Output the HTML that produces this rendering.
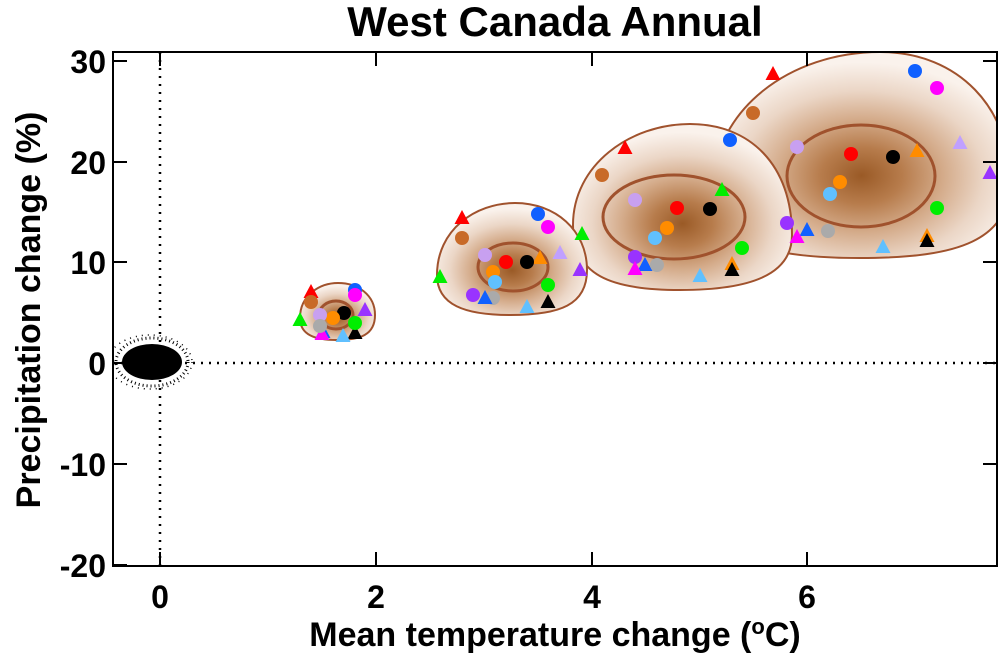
<!DOCTYPE html>
<html><head><meta charset="utf-8"><style>
html,body{margin:0;padding:0;background:#fff;}
svg text{font-family:"Liberation Sans",Arial,sans-serif;font-weight:bold;fill:#000;}
</style></head><body>
<svg width="1000" height="658" viewBox="0 0 1000 658" xmlns="http://www.w3.org/2000/svg">
<defs>
<radialGradient id="g" cx="50%" cy="60%" r="55%">
<stop offset="0" stop-color="#9a5a26"/>
<stop offset="0.25" stop-color="#b77c4c"/>
<stop offset="0.5" stop-color="#d4ab8a"/>
<stop offset="0.75" stop-color="#ebd6c6"/>
<stop offset="1" stop-color="#faf2ec"/>
</radialGradient>
<clipPath id="c"><rect x="113" y="52" width="884" height="514"/></clipPath>
<circle id="C" r="7"/>
<polygon id="T" points="0,-8 -7.5,6 7.5,6"/>
</defs>
<text x="555" y="36" font-size="42" text-anchor="middle">West Canada Annual</text>
<g clip-path="url(#c)">
<line x1="160" y1="52" x2="160" y2="566" stroke="#000" stroke-width="2.5" stroke-dasharray="2,6"/>
<line x1="113" y1="363" x2="997" y2="363" stroke="#000" stroke-width="2.5" stroke-dasharray="2,6"/>
<path d="M713,190 C713,110 790,52 880,52 C960,52 1010,110 1010,180 C1010,240 960,258 860,258 C760,258 713,240 713,190Z" fill="url(#g)" stroke="#a0522d" stroke-width="2"/>
<ellipse cx="861" cy="176" rx="74" ry="51" fill="none" stroke="#a0522d" stroke-width="3"/>
<path d="M573,225 C573,165 630,124 690,124 C750,124 792,165 792,235 C792,275 750,290 680,290 C610,290 573,275 573,225Z" fill="url(#g)" stroke="#a0522d" stroke-width="2"/>
<ellipse cx="674" cy="217" rx="71" ry="42" fill="none" stroke="#a0522d" stroke-width="3"/>
<path d="M437,275 C437,230 475,203 515,203 C555,203 587,230 587,270 C587,305 560,315 510,315 C465,315 437,305 437,275Z" fill="url(#g)" stroke="#a0522d" stroke-width="2"/>
<ellipse cx="513" cy="267" rx="35" ry="24" fill="none" stroke="#a0522d" stroke-width="3"/>
<path d="M300,318 C300,295 320,283 338,283 C358,283 375,295 375,315 C375,335 360,340 337,340 C315,340 300,335 300,318Z" fill="url(#g)" stroke="#a0522d" stroke-width="2"/>
<ellipse cx="336" cy="315" rx="17" ry="14" fill="none" stroke="#a0522d" stroke-width="3"/>
<ellipse cx="152" cy="362" rx="30" ry="18" fill="#000"/>
<ellipse cx="152" cy="362" rx="36" ry="24" fill="none" stroke="#000" stroke-width="3" stroke-dasharray="1,3"/>
<ellipse cx="150" cy="362" rx="42" ry="27" fill="none" stroke="#000" stroke-width="1.5" stroke-dasharray="1,5"/>
<!-- group 1 -->
<use href="#T" x="311" y="292" fill="#ff0000"/><use href="#T" x="300" y="320" fill="#00ee00"/><use href="#T" x="323" y="332" fill="#1060ff"/><use href="#T" x="322" y="334" fill="#ff00ff"/><use href="#T" x="365" y="310" fill="#9933ff"/><use href="#T" x="355" y="333" fill="#000"/><use href="#T" x="343" y="336" fill="#60c0ff"/>
<use href="#C" x="355" y="290" fill="#1060ff"/><use href="#C" x="355" y="295" fill="#ff00ff"/><use href="#C" x="344" y="313" fill="#000"/><use href="#C" x="333" y="318" fill="#ff8c00"/><use href="#C" x="320" y="315" fill="#c8a0f0"/><use href="#C" x="311" y="302" fill="#c86a28"/><use href="#C" x="355" y="323" fill="#00ee00"/><use href="#C" x="320" y="326" fill="#aaaaaa"/>
<!-- group 2 -->
<use href="#T" x="462" y="218" fill="#ff0000"/><use href="#C" x="462" y="238" fill="#c86a28"/><use href="#C" x="538" y="214" fill="#1060ff"/><use href="#C" x="548" y="227" fill="#ff00ff"/><use href="#T" x="440" y="277" fill="#00ee00"/><use href="#C" x="485" y="255" fill="#c8a0f0"/><use href="#T" x="560" y="253" fill="#c0a0ff"/><use href="#T" x="582" y="234" fill="#00ee00"/><use href="#T" x="580" y="270" fill="#9933ff"/><use href="#T" x="540" y="258" fill="#ff8c00"/><use href="#C" x="506" y="262" fill="#ff0000"/><use href="#C" x="527" y="262" fill="#000"/><use href="#C" x="493" y="272" fill="#ff8c00"/><use href="#C" x="495" y="282" fill="#60c0ff"/><use href="#C" x="493" y="298" fill="#aaaaaa"/><use href="#C" x="473" y="295" fill="#9933ff"/><use href="#T" x="485" y="298" fill="#1060ff"/><use href="#C" x="548" y="285" fill="#00ee00"/><use href="#T" x="548" y="302" fill="#000"/><use href="#T" x="527" y="307" fill="#60c0ff"/>
<!-- group 3 -->
<use href="#T" x="625" y="148" fill="#ff0000"/><use href="#C" x="602" y="175" fill="#c86a28"/><use href="#C" x="730" y="140" fill="#1060ff"/><use href="#T" x="722" y="190" fill="#00ee00"/><use href="#C" x="635" y="200" fill="#c8a0f0"/><use href="#C" x="677" y="208" fill="#ff0000"/><use href="#C" x="710" y="209" fill="#000"/><use href="#C" x="667" y="228" fill="#ff8c00"/><use href="#C" x="655" y="238" fill="#60c0ff"/><use href="#C" x="635" y="257" fill="#9933ff"/><use href="#T" x="645" y="265" fill="#1060ff"/><use href="#C" x="657" y="265" fill="#aaaaaa"/><use href="#T" x="635" y="269" fill="#ff00ff"/><use href="#C" x="742" y="248" fill="#00ee00"/><use href="#T" x="732" y="264" fill="#ff8c00"/><use href="#T" x="732" y="270" fill="#000"/><use href="#T" x="700" y="276" fill="#60c0ff"/>
<!-- group 4 -->
<use href="#T" x="773" y="74" fill="#ff0000"/><use href="#C" x="753" y="113" fill="#c86a28"/><use href="#C" x="915" y="71" fill="#1060ff"/><use href="#C" x="937" y="88" fill="#ff00ff"/><use href="#C" x="797" y="147" fill="#c8a0f0"/><use href="#T" x="960" y="143" fill="#c0a0ff"/><use href="#T" x="917" y="151" fill="#ff8c00"/><use href="#C" x="851" y="154" fill="#ff0000"/><use href="#C" x="893" y="157" fill="#000"/><use href="#C" x="840" y="182" fill="#ff8c00"/><use href="#C" x="830" y="194" fill="#60c0ff"/><use href="#T" x="990" y="173" fill="#9933ff"/><use href="#C" x="787" y="223" fill="#9933ff"/><use href="#T" x="807" y="230" fill="#1060ff"/><use href="#T" x="797" y="237" fill="#ff00ff"/><use href="#C" x="828" y="231" fill="#aaaaaa"/><use href="#C" x="937" y="208" fill="#00ee00"/><use href="#T" x="883" y="247" fill="#60c0ff"/><use href="#T" x="927" y="236" fill="#ff8c00"/><use href="#T" x="927" y="241" fill="#000"/>
</g>
<rect x="113" y="52" width="884" height="514" fill="none" stroke="#000" stroke-width="2"/>
<g stroke="#000" stroke-width="2">
<line x1="160" y1="566" x2="160" y2="552"/><line x1="376" y1="566" x2="376" y2="552"/><line x1="592" y1="566" x2="592" y2="552"/><line x1="807" y1="566" x2="807" y2="552"/>
<line x1="160" y1="52" x2="160" y2="66"/><line x1="376" y1="52" x2="376" y2="66"/><line x1="592" y1="52" x2="592" y2="66"/><line x1="807" y1="52" x2="807" y2="66"/>
<line x1="113" y1="61" x2="127" y2="61"/><line x1="113" y1="162" x2="127" y2="162"/><line x1="113" y1="262" x2="127" y2="262"/><line x1="113" y1="363" x2="127" y2="363"/><line x1="113" y1="464" x2="127" y2="464"/><line x1="113" y1="565" x2="127" y2="565"/>
<line x1="997" y1="61" x2="983" y2="61"/><line x1="997" y1="162" x2="983" y2="162"/><line x1="997" y1="262" x2="983" y2="262"/><line x1="997" y1="363" x2="983" y2="363"/><line x1="997" y1="464" x2="983" y2="464"/>
</g>
<g font-size="32" text-anchor="middle">
<text x="160" y="608">0</text><text x="376" y="608">2</text><text x="592" y="608">4</text><text x="807" y="608">6</text>
</g>
<g font-size="32" text-anchor="end">
<text x="106" y="73">30</text><text x="106" y="174">20</text><text x="106" y="274">10</text><text x="106" y="375">0</text><text x="106" y="476">-10</text><text x="106" y="577">-20</text>
</g>
<text x="555" y="646" font-size="34" text-anchor="middle">Mean temperature change (<tspan font-size="22" dy="-12">o</tspan><tspan dy="12">C)</tspan></text>
<text transform="translate(40,310) rotate(-90)" font-size="34" text-anchor="middle">Precipitation change (%)</text>
</svg>
</body></html>
